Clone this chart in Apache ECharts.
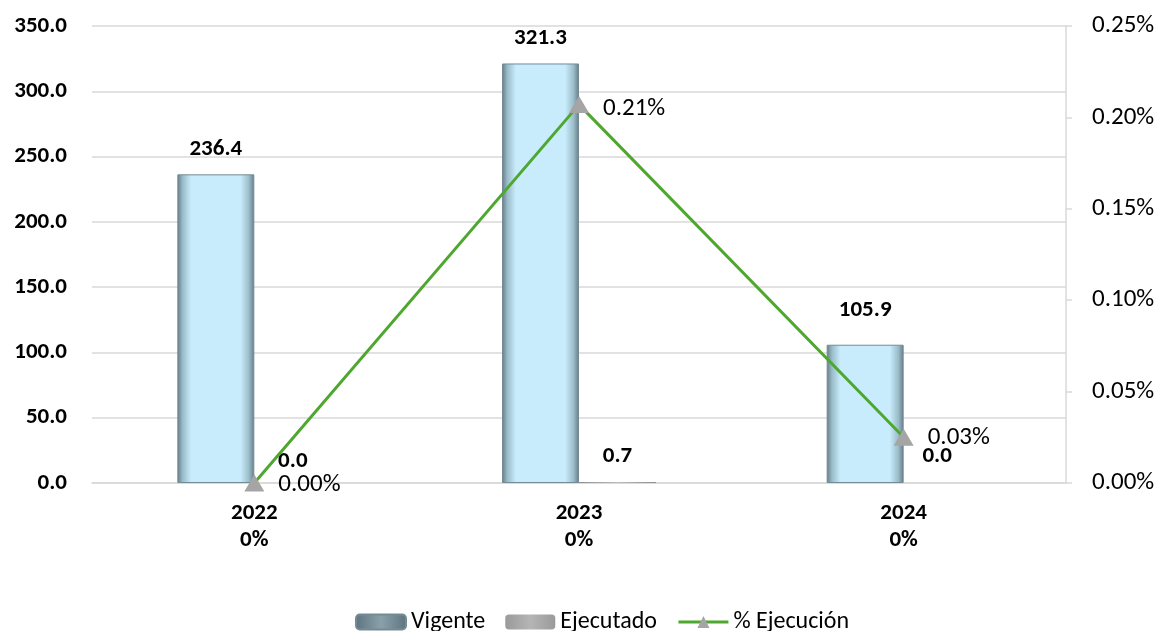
<!DOCTYPE html>
<html><head><meta charset="utf-8">
<script src="https://cdn.jsdelivr.net/npm/echarts@6/dist/echarts.min.js"></script>
<style>html,body{margin:0;padding:0;background:#fff}#c{width:1161px;height:631px}</style>
</head><body><div id="c"></div>
<script>
const categories = ['2022', '2023', '2024'];
const subLabels = ['0%', '0%', '0%'];
const vigente = [236.4, 321.3, 105.9];
const ejecutado = [0.0, 0.7, 0.0];
const ejecucionPct = [0.0, 0.207, 0.025];
const ejecucionLabels = ['0.00%', '0.21%', '0.03%'];
const leftTicks = { min: 0, max: 350, interval: 50 };
const rightTicks = { min: 0, max: 0.25, interval: 0.05 };

const FONT = 'Carlito, Lato, sans-serif';
const chart = echarts.init(document.getElementById('c'));
const vigGrad = new echarts.graphic.LinearGradient(0, 0, 1, 0, [
  {offset: 0, color: '#647b85'}, {offset: 0.07, color: '#9bbcc9'}, {offset: 0.18, color: '#c8ecfb'},
  {offset: 0.82, color: '#c8ecfb'}, {offset: 0.93, color: '#9bbcc9'}, {offset: 1, color: '#647b85'}
]);
const ejeGrad = new echarts.graphic.LinearGradient(0, 0, 1, 0, [
  {offset: 0, color: '#8f8f8f'}, {offset: 0.5, color: '#bdbdbd'}, {offset: 1, color: '#8f8f8f'}
]);
chart.setOption({
  animation: false,
  textStyle: { fontFamily: FONT },
  grid: { left: 92, right: 95, top: 26, bottom: 148 },
  legend: {
    top: 605, left: 350, itemWidth: 50, itemHeight: 15, itemGap: 20,
    textStyle: { fontSize: 24, color: '#000', fontFamily: FONT },
    data: [
      { name: 'Vigente', itemStyle: { color: new echarts.graphic.LinearGradient(0,0,1,0,[{offset:0,color:'#5d737d'},{offset:0.5,color:'#8aa1aa'},{offset:1,color:'#5d737d'}]) } },
      { name: 'Ejecutado', itemStyle: { color: new echarts.graphic.LinearGradient(0,0,1,0,[{offset:0,color:'#9a9a9a'},{offset:0.5,color:'#b5b5b5'},{offset:1,color:'#9a9a9a'}]) } },
      { name: '% Ejecución', lineStyle: { width: 3, color: '#4ea72e' } }
    ]
  },
  xAxis: {
    type: 'category', data: categories,
    axisLine: { lineStyle: { color: '#d9d9d9', width: 1.5 } },
    axisTick: { show: false },
    axisLabel: {
      margin: 17, fontSize: 23, fontWeight: 'bold', color: '#000', lineHeight: 27,
      formatter: (v, i) => v + '\n' + subLabels[i]
    }
  },
  yAxis: [
    {
      type: 'value', min: leftTicks.min, max: leftTicks.max, interval: leftTicks.interval,
      axisLine: { show: false }, axisTick: { show: false },
      splitLine: { lineStyle: { color: '#d9d9d9', width: 1.5 } },
      axisLabel: { margin: 25, fontSize: 23, fontWeight: 'bold', color: '#000', formatter: v => v.toFixed(1) }
    },
    {
      type: 'value', min: rightTicks.min, max: rightTicks.max, interval: rightTicks.interval,
      position: 'right',
      axisLine: { show: true, lineStyle: { color: '#d9d9d9', width: 1.5 } },
      axisTick: { show: true, length: 6, lineStyle: { color: '#d9d9d9', width: 1.5 } },
      splitLine: { show: false },
      axisLabel: { margin: 26, fontSize: 25, color: '#000', formatter: v => v.toFixed(2) + '%' }
    }
  ],
  series: [
    {
      name: 'Vigente', type: 'bar', barWidth: 77, barGap: '0%',
      itemStyle: { color: vigGrad, borderColor: '#748b95', borderWidth: 1 },
      label: { show: true, position: 'top', distance: 14, fontSize: 23, fontWeight: 'bold', color: '#000', formatter: p => p.value.toFixed(1) },
      data: vigente.map((v, i) => i === 2 ? { value: v, label: { show: true, position: 'top', distance: 23 } } : v)
    },
    {
      name: 'Ejecutado', type: 'bar', barWidth: 77, barGap: '0%',
      itemStyle: { color: ejeGrad },
      label: { show: true, position: 'top', distance: 10, fontSize: 23, fontWeight: 'bold', color: '#000', formatter: p => p.value.toFixed(1) },
      data: ejecutado.map((v, i) => i === 1 ? { value: v, label: { show: true, position: 'top', distance: 14 } } : (i === 2 ? { value: v, label: { show: true, position: 'top', distance: 15, offset: [-5, 0] } } : v))
    },
    {
      name: '% Ejecución', type: 'line', yAxisIndex: 1,
      symbol: 'triangle', symbolSize: [20, 17],
      lineStyle: { color: '#4ea72e', width: 3 },
      itemStyle: { color: '#a5a5a5' },
      label: { show: true, position: 'right', distance: 14, fontSize: 25, color: '#000', formatter: p => ejecucionLabels[p.dataIndex] },
      data: ejecucionPct.map((v, i) => i === 0 ? { value: v, label: { show: true, position: 'right', offset: [0, 2] } } : (i === 1 ? { value: v, label: { show: true, position: 'right', offset: [0, 4] } } : v))
    }
  ]
});
</script>
</body></html>
